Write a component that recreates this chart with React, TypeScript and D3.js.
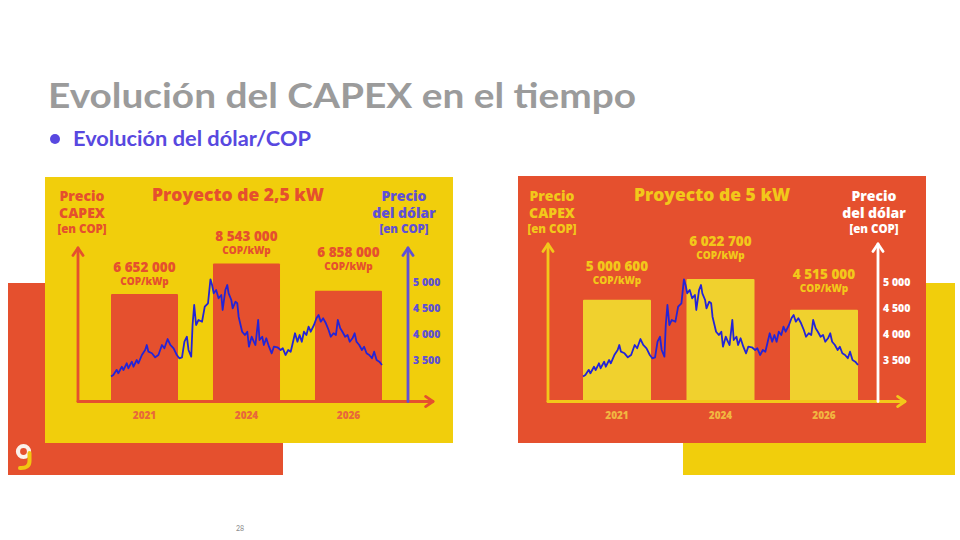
import React from "react";
import * as d3 from "d3";

// ---------- data ----------
const years = ["2021", "2024", "2026"];
const capex25kW = [6652000, 8543000, 6858000];
const capex5kW = [5000600, 6022700, 4515000];
const dollarTicks = [3500, 4000, 4500, 5000];
// time position (percent of the period) and USD/COP value
const dollarT = [0, 0.85, 2.1, 2.7, 4.0, 4.6, 5.8, 6.4, 7.7, 8.3, 9.5, 10.1, 11.4, 12.6, 13.2, 13.8, 15.1, 16.3, 17.5, 18.8, 19.7, 20.9, 21.9, 23.1, 24.3, 25.2, 26.2, 27.1, 28.0, 28.6, 29.6, 30.1, 30.7, 31.4, 32.3, 33.6, 34.6, 35.8, 36.7, 37.3, 37.9, 38.8, 39.7, 40.7, 41.2, 42.2, 42.9, 43.4, 44.4, 44.9, 45.9, 46.6, 47.1, 48.4, 49.4, 50.3, 50.9, 51.9, 52.7, 53.3, 54.3, 54.8, 55.8, 56.4, 57.3, 58.3, 59.3, 60.1, 61.4, 62.6, 63.4, 64.4, 65.4, 66.3, 66.9, 67.9, 68.8, 69.6, 70.4, 71.2, 72.1, 72.9, 73.7, 74.9, 75.8, 76.6, 77.4, 78.3, 79.3, 80.3, 81.1, 82.1, 83.0, 83.7, 84.6, 85.4, 86.4, 87.3, 88.1, 89.1, 89.9, 90.6, 91.6, 92.6, 93.4, 94.3, 95.3, 96.3, 97.1, 98.0, 99.0, 100];
const dollarV = [3200, 3230, 3330, 3264, 3390, 3327, 3456, 3360, 3487, 3390, 3519, 3456, 3615, 3712, 3808, 3679, 3648, 3571, 3615, 3808, 3744, 3923, 3808, 3744, 3615, 3552, 3571, 3871, 3967, 3712, 3583, 4192, 4577, 4192, 4289, 4256, 4544, 4610, 5071, 4962, 4802, 4865, 4706, 4769, 4481, 4865, 4962, 4802, 4673, 4513, 4640, 4610, 4352, 4063, 4000, 4063, 3775, 3967, 3871, 3808, 4289, 3904, 3967, 3808, 3937, 3775, 3648, 3775, 3764, 3712, 3744, 3615, 3712, 3679, 3808, 4033, 3871, 4000, 3871, 4063, 4000, 4160, 4063, 4192, 4321, 4385, 4256, 4321, 4225, 4096, 3967, 4033, 4000, 4289, 4129, 4063, 3967, 4000, 3871, 3937, 4033, 3871, 3808, 3712, 3775, 3648, 3615, 3552, 3679, 3519, 3487, 3423];

const ORANGE = "#E5502E";
const YELLOW = "#F1CE0C";
const BAR_YELLOW = "#F0D12E";
const PURPLE = "#5F50D6";
const LINE_BLUE = "#2424D6";
const FONT = "'Open Sans', sans-serif";

const fmt = (v: number) => d3.format(",")(v).replace(/,/g, " ");

type PanelCfg = {
  title: string;
  values: number[];
  rect: [number, number, number, number];
  bg: string;
  bar: string;
  text: string;
  yearColor: string;
  axisColor: string;
  rightColor: string;
  axisLeftX: number;
  axisRightX: number;
  axisTop: number;
  baseY: number;
  axisEndX: number;
  barRange: [number, number];
  capMax: number;
  titleX: number;
  leftLabelX: number;
  rightLabelX: number;
  tickX: number;
  labelGaps: number[];
};

const Arrow = ({ x1, y1, x2, y2, color }: any) => {
  const ang = Math.atan2(y2 - y1, x2 - x1);
  const len = 9;
  const spread = 0.6;
  const a1 = ang + Math.PI - spread;
  const a2 = ang + Math.PI + spread;
  return (
    <g stroke={color} strokeWidth={2.8} fill="none" strokeLinecap="round" strokeLinejoin="round">
      <line x1={x1} y1={y1} x2={x2} y2={y2} />
      <polyline
        points={`${x2 + len * Math.cos(a1)},${y2 + len * Math.sin(a1)} ${x2},${y2} ${x2 + len * Math.cos(a2)},${y2 + len * Math.sin(a2)}`}
      />
    </g>
  );
};

const Panel = ({ c }: { c: PanelCfg }) => {
  const xBand = d3.scaleBand<string>().domain(years).range(c.barRange).paddingInner(0.343).paddingOuter(0);
  const yCap = d3.scaleLinear().domain([0, c.capMax]).range([c.baseY, c.axisTop]);
  const yDol = d3.scaleLinear().domain([3500, 5000]).range([361, 283]);
  const xT = d3.scaleLinear().domain([0, 100]).range(c.barRange);
  const pts: [number, number][] = dollarT.map((t, i) => [t, dollarV[i]]);
  const line = d3.line<[number, number]>().x((d) => xT(d[0])).y((d) => yDol(d[1]));
  const [rx, ry, rw, rh] = c.rect;
  return (
    <g>
      <rect x={rx} y={ry} width={rw} height={rh} fill={c.bg} />
      {years.map((yr, i) => (
        <rect
          key={yr}
          x={xBand(yr)}
          y={yCap(c.values[i])}
          width={xBand.bandwidth()}
          height={c.baseY - yCap(c.values[i])}
          fill={c.bar}
          rx={1}
        />
      ))}
      {years.map((yr, i) => {
        const cx = (xBand(yr) as number) + xBand.bandwidth() / 2;
        const top = yCap(c.values[i]) - c.labelGaps[i];
        return (
          <g key={"l" + yr} fill={c.text} textAnchor="middle" fontFamily={FONT} fontWeight={800}>
            <text x={cx} y={top - 13} fontSize={13.5}>{fmt(c.values[i])}</text>
            <text x={cx} y={top} fontSize={10}>COP/kWp</text>
          </g>
        );
      })}
      <path d={line(pts) as string} fill="none" stroke={LINE_BLUE} strokeWidth={1.8} strokeLinejoin="round" />
      <Arrow x1={c.axisLeftX} y1={c.baseY} x2={c.axisLeftX} y2={c.axisTop} color={c.axisColor} />
      <Arrow x1={c.axisLeftX} y1={c.baseY} x2={c.axisEndX} y2={c.baseY} color={c.axisColor} />
      <Arrow x1={c.axisRightX} y1={c.baseY} x2={c.axisRightX} y2={c.axisTop} color={c.rightColor} />
      {years.map((yr) => (
        <text
          key={"y" + yr}
          x={(xBand(yr) as number) + xBand.bandwidth() / 2}
          y={419}
          textAnchor="middle"
          fontFamily={FONT}
          fontWeight={800}
          fontSize={10}
          fill={c.yearColor}
        >
          {yr}
        </text>
      ))}
      {dollarTicks.map((t) => (
        <text
          key={"t" + t}
          x={c.tickX}
          y={yDol(t)}
          dominantBaseline="middle"
          fontFamily={FONT}
          fontWeight={800}
          fontSize={10.5}
          fill={c.rightColor}
        >
          {fmt(t)}
        </text>
      ))}
      <text x={c.titleX} y={201} textAnchor="middle" fontFamily={FONT} fontWeight={800} fontSize={17.5} fill={c.text}>
        {c.title}
      </text>
      <g textAnchor="middle" fontFamily={FONT} fontWeight={800} fill={c.text}>
        <text x={c.leftLabelX} y={201} fontSize={14}>Precio</text>
        <text x={c.leftLabelX} y={217.5} fontSize={14}>CAPEX</text>
        <text x={c.leftLabelX} y={232.5} fontSize={11.5}>[en COP]</text>
      </g>
      <g textAnchor="middle" fontFamily={FONT} fontWeight={800} fill={c.rightColor}>
        <text x={c.rightLabelX} y={201} fontSize={14}>Precio</text>
        <text x={c.rightLabelX} y={217.5} fontSize={14}>del dólar</text>
        <text x={c.rightLabelX} y={232.5} fontSize={11.5}>[en COP]</text>
      </g>
    </g>
  );
};

const leftPanel: PanelCfg = {
  title: "Proyecto de 2,5 kW",
  values: capex25kW,
  rect: [45, 177, 408, 266],
  bg: YELLOW,
  bar: ORANGE,
  text: ORANGE,
  yearColor: "#E8693A",
  axisColor: ORANGE,
  rightColor: PURPLE,
  axisLeftX: 78,
  axisRightX: 408,
  axisTop: 248,
  baseY: 401.5,
  axisEndX: 433,
  barRange: [111, 382],
  capMax: 9.5e6,
  titleX: 238,
  leftLabelX: 82,
  rightLabelX: 404,
  tickX: 413,
  labelGaps: [9, 9, 21],
};

const rightPanel: PanelCfg = {
  title: "Proyecto de 5 kW",
  values: capex5kW,
  rect: [518, 176, 408, 267],
  bg: ORANGE,
  bar: BAR_YELLOW,
  text: "#F2C81A",
  yearColor: "#F1B640",
  axisColor: "#F2C81A",
  rightColor: "#FFFFFF",
  axisLeftX: 548,
  axisRightX: 878,
  axisTop: 244,
  baseY: 401.5,
  axisEndX: 905,
  barRange: [583, 858],
  capMax: 7.75e6,
  titleX: 712,
  leftLabelX: 552,
  rightLabelX: 874,
  tickX: 883,
  labelGaps: [16, 20, 18],
};

export default function App() {
  return (
    <svg
      width={960}
      height={540}
      style={{ position: "absolute", left: 0, top: 0, background: "#fff" }}
    >
      <rect x={0} y={0} width={960} height={540} fill="#fff" />
      <text x={48} y={108} fontFamily="Lato, sans-serif" fontWeight={700} fontSize={35} fill="#9B9B9B" textLength={588} lengthAdjust="spacingAndGlyphs">
        Evolución del CAPEX en el tiempo
      </text>
      <circle cx={55} cy={139} r={5} fill="#5848E0" />
      <text x={73} y={146} fontFamily="Lato, sans-serif" fontWeight={700} fontSize={20.5} fill="#5848E0" textLength={238} lengthAdjust="spacingAndGlyphs">
        Evolución del dólar/COP
      </text>
      {/* decorative back rectangles */}
      <rect x={8} y={283} width={275} height={192} fill={ORANGE} />
      <rect x={683} y={283} width={272} height={192} fill={YELLOW} />
      <Panel c={leftPanel} />
      <Panel c={rightPanel} />
      {/* logo */}
      <circle cx={23.5} cy={451.5} r={5.5} fill="none" stroke="#FBF1EA" strokeWidth={4.2} />
      <path d="M29.5,453 L29.5,461 Q29.5,468.5 20,468" fill="none" stroke="#F2C511" strokeWidth={4} strokeLinecap="round" />
      <text x={240} y={531} textAnchor="middle" fontFamily="Lato, sans-serif" fontSize={7} fill="#888">28</text>
    </svg>
  );
}
